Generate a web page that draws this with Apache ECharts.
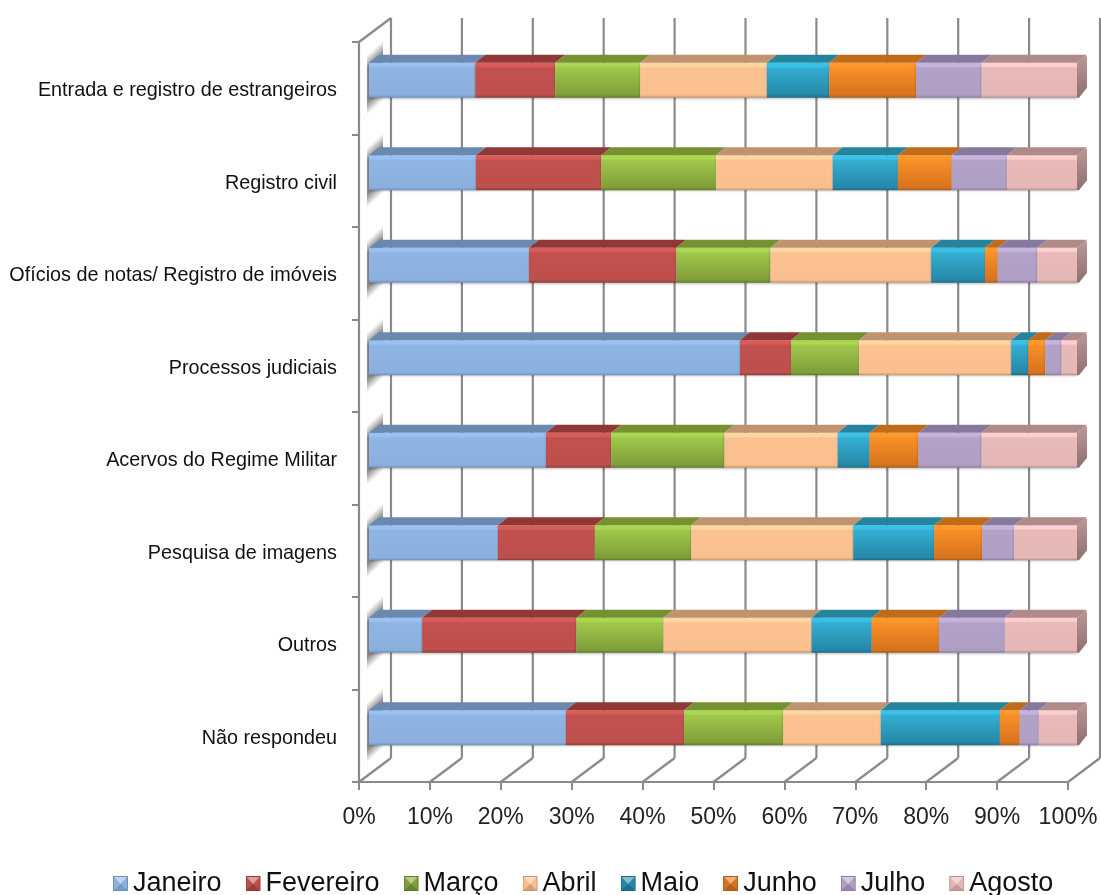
<!DOCTYPE html>
<html><head><meta charset="utf-8">
<style>html,body{margin:0;padding:0;background:#fff}#c{width:1101px;height:895px}</style>
<script src="https://cdn.jsdelivr.net/npm/echarts@6/dist/echarts.min.js"></script>
</head><body><div id="c"></div>
<script>
const categories = ['Não respondeu','Outros','Pesquisa de imagens','Acervos do Regime Militar','Processos judiciais','Ofícios de notas/ Registro de imóveis','Registro civil','Entrada e registro de estrangeiros'];
const months = ['Janeiro','Fevereiro','Março','Abril','Maio','Junho','Julho','Agosto'];
const janeiro   = [27.8, 7.5, 18.2, 25.0, 52.4, 22.6, 15.1, 15.0];
const fevereiro = [16.7, 21.8, 13.7, 9.2, 7.2, 20.8, 17.7, 11.3];
const marco     = [14.0, 12.3, 13.6, 16.0, 9.6, 13.3, 16.2, 12.0];
const abril     = [13.8, 20.9, 22.9, 16.0, 21.5, 22.7, 16.5, 17.9];
const maio      = [16.8, 8.5, 11.4, 4.5, 2.4, 7.6, 9.2, 8.8];
const junho     = [2.8, 9.5, 6.8, 6.9, 2.4, 1.8, 7.6, 12.3];
const julho     = [2.7, 9.3, 4.5, 8.9, 2.3, 5.6, 7.8, 9.2];
const agosto    = [5.4, 10.2, 8.9, 13.5, 2.2, 5.6, 9.9, 13.5];
const seriesValues = [janeiro, fevereiro, marco, abril, maio, junho, julho, agosto];
const xTicks = [0,10,20,30,40,50,60,70,80,90,100];

// front gradient: highlight, upper body, lower body, bottom edge; then top face colour
const frontColors = [
  ['#9ac1f3','#8fb5e4','#8bb0de','#6f92bd'],
  ['#d95c59','#c1514e','#bd4f4c','#8e3b39'],
  ['#abd84f','#a0c74c','#7f9e38','#5f7a2a'],
  ['#fdd6a2','#fbc291','#fabf8e','#c4966f'],
  ['#38c2ea','#34aed2','#2688a8','#1c6a84'],
  ['#ff992a','#f88f28','#d8731d','#a85c18'],
  ['#c6b3de','#b3a2c8','#b09fc5','#8b7da0'],
  ['#fecfce','#e7bab9','#e5b8b7','#b59190']
];
const topColors = ['#6b89ae','#8f3836','#769230','#bf936f','#25839e','#c06b19','#87799d','#ae8a88'];

const BAR_H = 35, BX = 10, BY = 8, WX = 32, WY = 24;
const grad = (stops, x2, y2) => new echarts.graphic.LinearGradient(0,0,x2,y2,stops);
const front = c => grad([
  {offset:0,color:c[0]},{offset:.1,color:c[0]},{offset:.15,color:c[1]},
  {offset:.92,color:c[2]},{offset:1,color:c[3]}],0,1);

function iconUri(c){
  const svg = `<svg xmlns="http://www.w3.org/2000/svg" width="15" height="15"><rect width="15" height="15" fill="${c[2]}"/><polygon points="1,1 14,1 7.5,8" fill="#fff" opacity=".45"/><polygon points="1,14 14,14 7.5,8" fill="${c[3]}" opacity=".75"/><rect x=".5" y=".5" width="14" height="14" fill="none" stroke="${c[3]}"/></svg>`;
  return 'image://data:image/svg+xml;charset=utf-8,' + encodeURIComponent(svg);
}

const depthData = [];
categories.forEach((_, ci) => {
  let acc = 0;
  seriesValues.forEach((vals, mi) => {
    depthData.push([acc, acc + vals[ci], ci, mi]);
    acc += vals[ci];
  });
});

const wallLine = (x1,y1,x2,y2) => ({type:'line',shape:{x1,y1,x2,y2},style:{stroke:'#8a8a8a',lineWidth:2.2}});

const option = {
  backgroundColor:'#fff',
  animation:false,
  grid:[
    {left:359, top:42, width:709, height:740},
    {left:369, top:34, width:708, height:740}
  ],
  xAxis:[
    {type:'value',gridIndex:0,min:0,max:100,interval:10,
     axisLine:{show:true,lineStyle:{color:'#8a8a8a',width:2.2}},
     axisTick:{show:true,length:8,lineStyle:{color:'#8a8a8a',width:2}},
     splitLine:{show:false},
     axisLabel:{formatter:'{value}%',fontFamily:'Liberation Sans',fontSize:23,color:'#222',margin:24,hideOverlap:false}},
    {type:'value',gridIndex:1,min:0,max:100,show:false,splitLine:{show:false}}
  ],
  yAxis:[
    {type:'category',gridIndex:0,data:categories,
     axisLine:{show:true,lineStyle:{color:'#8a8a8a',width:2.2}},
     axisTick:{show:true,length:7,lineStyle:{color:'#8a8a8a',width:2}},
     axisLabel:{fontFamily:'Liberation Sans',fontSize:19.8,color:'#111',margin:22,interval:0,verticalAlign:'top',lineHeight:5}},
    {type:'category',gridIndex:1,data:categories,show:false}
  ],
  legend:{
    left:113, top:870, padding:0, itemWidth:15, itemHeight:15, itemGap:24,
    textStyle:{fontFamily:'Liberation Sans',fontSize:27,color:'#111'},
    data:months.map((m,i)=>({name:m,icon:iconUri(frontColors[i])}))
  },
  series:[
    {type:'custom',silent:true,xAxisIndex:0,yAxisIndex:0,z:1,clip:false,
     data:xTicks.map(v=>[v,0]),encode:{x:0,y:1},
     renderItem(params,api){
       const cs=params.coordSys, v=api.value(0), x=api.coord([v,0])[0];
       const floor=cs.y+cs.height, top=cs.y;
       const ch=[wallLine(x,floor,x+WX,floor-WY),wallLine(x+WX,floor-WY,x+WX,top-WY)];
       if(v===0) ch.push(wallLine(x,top,x+WX,top-WY));
       return {type:'group',children:ch};
     }},
    {type:'custom',silent:true,xAxisIndex:0,yAxisIndex:0,z:2,clip:false,
     data:categories.map((c,i)=>[0,i]),encode:{x:0,y:1},
     renderItem(params,api){
       const p=api.coord([0,api.value(1)]);
       const l=p[0]+8, r=p[0]+24, cy=p[1];
       return {type:'polygon',shape:{points:[[l,cy-33],[r,cy-48],[r,cy+12],[l,cy+27]]},
         style:{fill:new echarts.graphic.LinearGradient(l,cy-33,l+30,cy-1,[
           {offset:0,color:'rgba(125,125,125,0)'},
           {offset:.22,color:'rgba(125,125,125,.9)'},
           {offset:.78,color:'rgba(125,125,125,.9)'},
           {offset:1,color:'rgba(125,125,125,0)'}],true)}};
     }},
    ...months.map((m,i)=>({
      type:'bar',name:m,stack:'total',xAxisIndex:1,yAxisIndex:1,barWidth:BAR_H,z:3,silent:true,
      data:seriesValues[i],
      itemStyle:{color:front(frontColors[i]),shadowBlur:2,shadowColor:'rgba(0,0,0,.25)',shadowOffsetY:1}
    })),
    {type:'custom',silent:true,xAxisIndex:1,yAxisIndex:1,z:4,clip:false,
     data:depthData,encode:{x:[0,1],y:2},
     renderItem(params,api){
       const cat=api.value(2), mi=api.value(3);
       const a=api.coord([api.value(0),cat]), b=api.coord([api.value(1),cat]);
       const t=a[1]-BAR_H/2, bm=a[1]+BAR_H/2;
       const ch=[{type:'polygon',shape:{points:[[a[0],t],[b[0],t],[b[0]+BX,t-BY],[a[0]+BX,t-BY]]},
         style:{fill:topColors[mi]}}];
       if(mi===months.length-1){
         ch.push({type:'polygon',shape:{points:[[b[0],t],[b[0]+BX-2,t-BY],[b[0]+BX,t-BY+2],[b[0]+BX,bm-BY-2],[b[0]+2,bm],[b[0],bm]]},
           style:{fill:grad([{offset:0,color:'#bb9a98'},{offset:.5,color:'#a58382'},{offset:1,color:'#8f7170'}],0,1)}});
       }
       return {type:'group',children:ch};
     }}
  ]
};
const chart = echarts.init(document.getElementById('c'),null,{renderer:'canvas'});
chart.setOption(option);
</script></body></html>
